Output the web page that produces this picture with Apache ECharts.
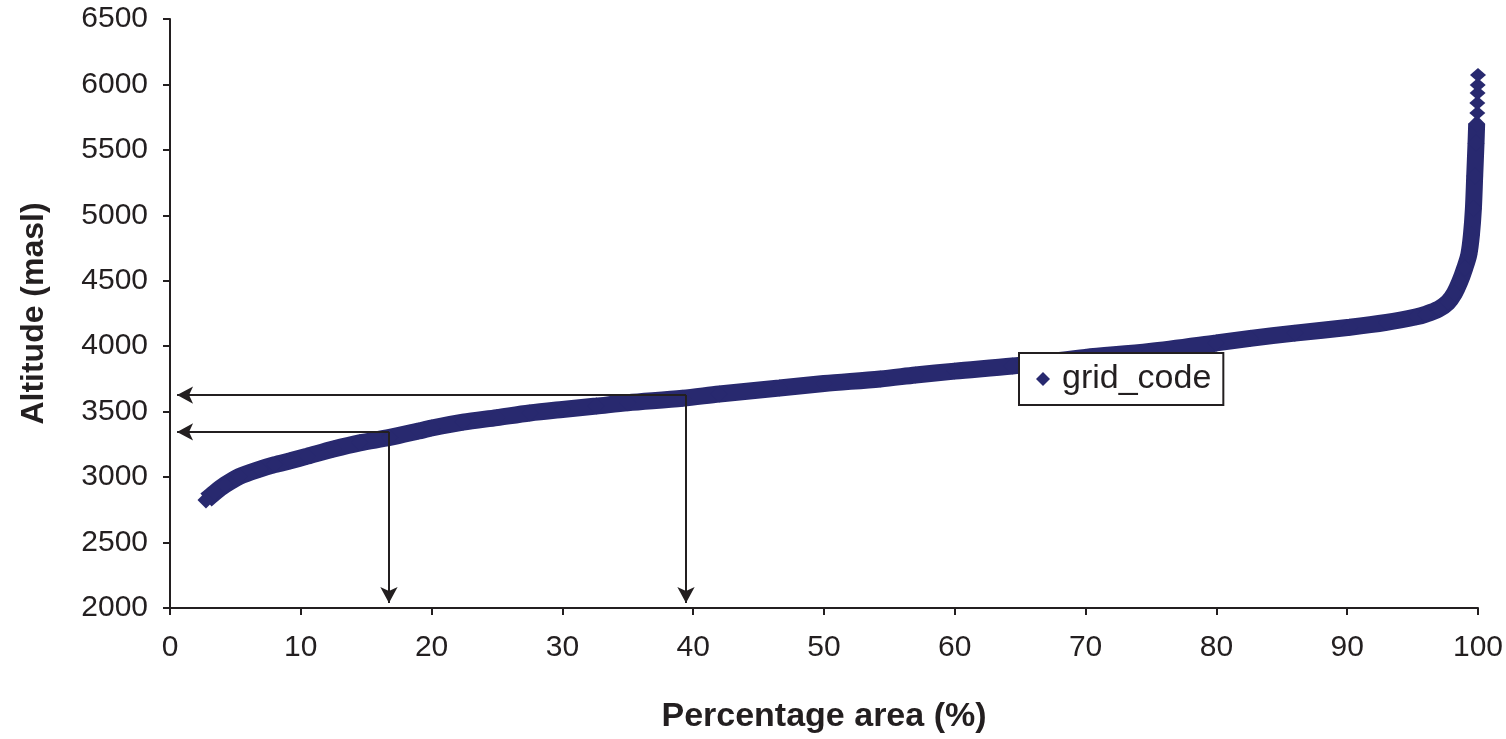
<!DOCTYPE html>
<html>
<head>
<meta charset="utf-8">
<title>grid_code</title>
<script src="https://cdn.jsdelivr.net/npm/echarts@6/dist/echarts.min.js"></script>
<style>
    html, body { margin: 0; padding: 0; background: #fff; }
    #echarts { width: 1506px; height: 739px; }
</style>
</head>
<body>
<div id="echarts"></div>
<script>
/* hypsometric curve */
var areaData = [2.75, 3.4, 4.2, 5.3, 6.9, 8.0, 9.2, 10.5, 12.5, 14.5, 16.8, 19.0, 20.0, 22.4, 25.0, 27.5,
    30.0, 32.6, 35.0, 39.2, 42.0, 46.6, 50.0, 54.3, 57.0, 60.0, 64.4, 67.0, 70.0, 74.9, 80.0, 82.6,
    86.0, 90.2, 93.0, 95.3, 96.0, 97.0, 97.7, 98.2, 98.6, 99.0, 99.3, 99.5, 99.65, 99.75, 99.85, 99.9];
var altData = [2825, 2880, 2940, 3005, 3062, 3095, 3125, 3160, 3215, 3262, 3303, 3352, 3375, 3420, 3455, 3490,
    3517, 3543, 3568, 3602, 3635, 3681, 3715, 3750, 3780, 3810, 3849, 3880, 3915, 3960, 4025, 4060,
    4100, 4145, 4182, 4225, 4245, 4285, 4335, 4405, 4490, 4600, 4700, 4850, 5050, 5300, 5550, 5700];
/* the few separate points at the top */
var topArea = [99.95, 99.95, 99.97, 99.98, 100];
var topAlt = [5782, 5858, 5934, 5995, 6072];
/* the two read-off arrows: [area, altitude] */
var arrowA = [16.74, 3345];
var arrowB = [39.45, 3627];

var yTicks = [2000, 2500, 3000, 3500, 4000, 4500, 5000, 5500, 6000, 6500];
var xTicks = [0, 10, 20, 30, 40, 50, 60, 70, 80, 90, 100];

var ink = '#231f20',
    navy = '#28296f',
    font = 'Liberation Sans, Arial, sans-serif';

function pairs(xs, ys) {
    var out = [];
    for (var i = 0; i < xs.length; i++) {
        out.push([xs[i], ys[i]]);
    }
    return out;
}

// arrow from the curve to the y axis, and down to the x axis
function arrowLines(p) {
    return [
        [{coord: [p[0], p[1]]}, {coord: [0.54, p[1]]}],
        [{coord: [p[0], p[1]]}, {coord: [p[0], 2038]}]
    ];
}

var myChart = echarts.init(document.getElementById('echarts'));

var option = {
    animation: false,
    textStyle: {fontFamily: font, color: ink},
    grid: {left: 170, right: 28, top: 19, bottom: 131},
    legend: {
        data: [{name: 'grid_code', icon: 'diamond'}],
        left: 1019,
        top: 353,
        orient: 'horizontal',
        padding: [9, 12, 9, 17],
        backgroundColor: '#fff',
        borderColor: ink,
        borderWidth: 2,
        borderRadius: 0,
        itemWidth: 14,
        itemHeight: 14,
        textStyle: {fontSize: 34, color: ink, fontFamily: font, padding: [0, 0, 0, 7]},
        selectedMode: false,
        z: 10
    },
    xAxis: {
        type: 'value',
        min: xTicks[0],
        max: xTicks[xTicks.length - 1],
        interval: 10,
        name: 'Percentage area (%)',
        nameLocation: 'middle',
        nameGap: 92,
        nameTextStyle: {fontSize: 34, fontWeight: 'bold', color: ink, fontFamily: font},
        splitLine: {show: false},
        axisLine: {onZero: false, lineStyle: {color: ink, width: 2}},
        axisTick: {length: 7, lineStyle: {color: ink, width: 2}},
        axisLabel: {fontSize: 30, color: ink, margin: 25, fontFamily: font}
    },
    yAxis: {
        type: 'value',
        min: yTicks[0],
        max: yTicks[yTicks.length - 1],
        interval: 500,
        name: 'Altitude (masl)',
        nameLocation: 'middle',
        nameGap: 120,
        nameTextStyle: {fontSize: 32, fontWeight: 'bold', color: ink, fontFamily: font},
        splitLine: {show: false},
        axisLine: {show: true, lineStyle: {color: ink, width: 2}},
        axisTick: {show: true, length: 7, lineStyle: {color: ink, width: 2}},
        axisLabel: {
            fontSize: 30, color: ink, margin: 22, fontFamily: font,
            formatter: function (v) { return String(v); }
        }
    },
    series: [{
        name: 'grid_code',
        type: 'line',
        data: pairs(areaData, altData),
        smooth: 0.3,
        symbol: 'diamond',
        symbolSize: 17,
        showSymbol: true,
        itemStyle: {color: navy},
        lineStyle: {color: navy, width: 17},
        z: 2
    }, {
        name: 'grid_code',
        type: 'scatter',
        data: pairs(topArea, topAlt),
        symbol: 'diamond',
        symbolSize: [16, 14],
        itemStyle: {color: navy, opacity: 1},
        z: 2,
        markLine: {
            silent: true,
            symbol: ['none', 'arrow'],
            symbolSize: [13, 16],
            label: {show: false},
            lineStyle: {color: ink, width: 2, type: 'solid'},
            data: arrowLines(arrowA).concat(arrowLines(arrowB)),
            z: 5
        }
    }]
};

myChart.setOption(option);
</script>
</body>
</html>
